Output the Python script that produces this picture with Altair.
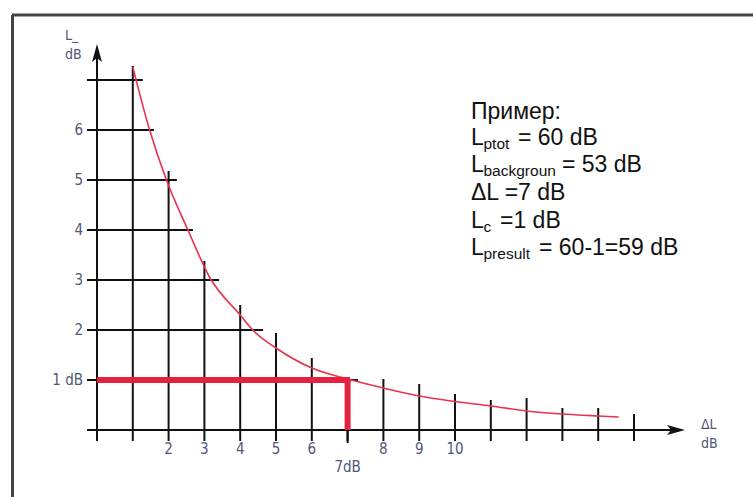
import altair as alt
import pandas as pd

# ---------------- data ----------------
# correction curve  Lc(ΔL)
curve_dl = [1.0, 1.47, 1.94, 2.54, 3.15, 4.0, 4.35, 5.0, 6.0, 7.0, 8.0, 9.0,
            10.0, 11.0, 12.0, 13.0, 14.0, 14.57]
curve_lc = [7.26, 6.0, 5.0, 4.0, 3.05, 2.3, 2.0, 1.64, 1.24, 1.02, 0.84, 0.68,
            0.57, 0.48, 0.38, 0.32, 0.28, 0.26]

# horizontal grid lines (level, right end in ΔL units)
h_level = [1, 2, 3, 4, 5, 6, 7]
h_end = [7.29, 4.64, 3.41, 2.68, 2.23, 1.59, 1.28]

# vertical grid lines (ΔL, top in Lc units)
v_pos = [1, 2, 3, 4, 5, 6, 7, 8, 9, 10, 11, 12, 13, 14, 15]
v_top = [7.28, 5.18, 3.38, 2.5, 1.94, 1.44, 0.0, 1.02, 0.92, 0.72, 0.6, 0.64,
         0.44, 0.44, 0.32]

# example reading
ex_dl = 7
ex_lc = 1

# tick labels
y_tick_vals = [1, 2, 3, 4, 5, 6]
y_tick_text = ["1 dB", "2", "3", "4", "5", "6"]
x_tick_vals = [2, 3, 4, 5, 6, 8, 9, 10]
x_tick_text = ["2", "3", "4", "5", "6", "8", "9", "10"]

# example text block: list of (text, is_subscript)
text_lines = [
    [("Пример:", False)],
    [("L", False), ("ptot", True), ("= 60 dB", False)],
    [("L", False), ("backgroun", True), ("= 53 dB", False)],
    [("ΔL =7 dB", False)],
    [("L", False), ("c", True), ("=1 dB", False)],
    [("L", False), ("presult", True), ("= 60-1=59 dB", False)],
]

# ---------------- layout (pixel mapping) ----------------
W, H = 753, 497
X0PX, XU = 97.0, 35.8     # pixel of ΔL=0, pixels per dB
Y0PX, YU = 430.0, 50.0    # pixel of Lc=0, pixels per dB


def dx_(px):
    return (px - X0PX) / XU


def dy_(py):
    return (Y0PX - py) / YU


xs = alt.Scale(domain=[dx_(0), dx_(W)], nice=False, zero=False)
ys = alt.Scale(domain=[dy_(H), dy_(0)], nice=False, zero=False)


def X(f="x"):
    return alt.X(f"{f}:Q", scale=xs, axis=None)


def Y(f="y"):
    return alt.Y(f"{f}:Q", scale=ys, axis=None)


layers = []
BLACK = "#111111"
RED = "#e4223f"
LABEL = "#4f5878"
FONT_AX = "Liberation Sans Narrow, DejaVu Sans Condensed, Liberation Sans"
FONT_TX = "Liberation Sans"

# frame (top and left border)
frame_top = pd.DataFrame({"x": [dx_(12)], "x2": [dx_(W + 5)], "y": [dy_(15)]})
frame_left = pd.DataFrame({"x": [dx_(12.5)], "y": [dy_(15)], "y2": [dy_(H + 5)]})
layers.append(alt.Chart(frame_top).mark_rule(color="#444444", strokeWidth=3)
              .encode(x=X(), x2="x2:Q", y=Y()))
layers.append(alt.Chart(frame_left).mark_rule(color="#444444", strokeWidth=3)
              .encode(x=X(), y=Y(), y2="y2:Q"))

# horizontal grid lines
hdf = pd.DataFrame({"y": h_level, "x": [-0.28] * len(h_level), "x2": h_end})
layers.append(alt.Chart(hdf).mark_rule(color=BLACK, strokeWidth=2)
              .encode(x=X(), x2="x2:Q", y=Y()))

# vertical grid lines
vdf = pd.DataFrame({"x": v_pos, "y": [-0.22] * len(v_pos), "y2": v_top})
layers.append(alt.Chart(vdf).mark_rule(color=BLACK, strokeWidth=2)
              .encode(x=X(), y=Y(), y2="y2:Q"))

# axes lines
xaxis = pd.DataFrame({"x": [-0.28], "x2": [dx_(676)], "y": [0]})
yaxis = pd.DataFrame({"x": [0], "y": [-0.22], "y2": [dy_(53)]})
layers.append(alt.Chart(xaxis).mark_rule(color=BLACK, strokeWidth=2)
              .encode(x=X(), x2="x2:Q", y=Y()))
layers.append(alt.Chart(yaxis).mark_rule(color=BLACK, strokeWidth=2)
              .encode(x=X(), y=Y(), y2="y2:Q"))

# arrow heads
arr_up = pd.DataFrame({"x": [0], "y": [dy_(53)]})
arr_right = pd.DataFrame({"x": [dx_(676)], "y": [0]})
layers.append(alt.Chart(arr_up).mark_point(
    shape="M0,-1L0.55,1L0,0.55L-0.55,1Z", size=324, filled=True,
    color=BLACK, opacity=1).encode(x=X(), y=Y()))
layers.append(alt.Chart(arr_right).mark_point(
    shape="M1,0L-1,-0.55L-0.55,0L-1,0.55Z", size=324, filled=True,
    color=BLACK, opacity=1).encode(x=X(), y=Y()))

# curve
cdf = pd.DataFrame({"x": curve_dl, "y": curve_lc})
layers.append(alt.Chart(cdf).mark_line(color="#e8334f", strokeWidth=1.6,
                                       interpolate="monotone")
              .encode(x=X(), y=Y()))

# example reading (thick red)
ex_h = pd.DataFrame({"x": [0], "x2": [ex_dl + 0.07], "y": [ex_lc]})
ex_v = pd.DataFrame({"x": [ex_dl], "y": [0], "y2": [ex_lc]})
layers.append(alt.Chart(ex_h).mark_rule(color=RED, strokeWidth=6)
              .encode(x=X(), x2="x2:Q", y=Y()))
layers.append(alt.Chart(ex_v).mark_rule(color=RED, strokeWidth=6)
              .encode(x=X(), y=Y(), y2="y2:Q"))

# tick below x axis at 7
t7 = pd.DataFrame({"x": [ex_dl], "y": [-0.26], "y2": [0]})
layers.append(alt.Chart(t7).mark_rule(color=BLACK, strokeWidth=2)
              .encode(x=X(), y=Y(), y2="y2:Q"))

# y tick labels
ydf = pd.DataFrame({"x": [dx_(83)] * len(y_tick_vals), "y": y_tick_vals, "t": y_tick_text})
layers.append(alt.Chart(ydf).mark_text(align="right", baseline="middle", fontSize=15,
                                       font=FONT_AX, color=LABEL)
              .encode(x=X(), y=Y(), text="t:N"))

# x tick labels
xdf = pd.DataFrame({"x": x_tick_vals, "y": [dy_(449)] * len(x_tick_vals), "t": x_tick_text})
layers.append(alt.Chart(xdf).mark_text(align="center", baseline="middle", fontSize=15,
                                       font=FONT_AX, color=LABEL)
              .encode(x=X(), y=Y(), text="t:N"))
x7 = pd.DataFrame({"x": [ex_dl], "y": [dy_(467)], "t": [f"{ex_dl}dB"]})
layers.append(alt.Chart(x7).mark_text(align="center", baseline="middle", fontSize=15,
                                      font=FONT_AX, color=LABEL)
              .encode(x=X(), y=Y(), text="t:N"))

# axis titles
ax_t = pd.DataFrame({
    "x": [dx_(65), dx_(65), dx_(701), dx_(701)],
    "y": [dy_(36), dy_(55), dy_(425), dy_(444)],
    "t": ["L_", "dB", "ΔL", "dB"],
})
layers.append(alt.Chart(ax_t).mark_text(align="left", baseline="middle", fontSize=14,
                                        font=FONT_AX, color=LABEL)
              .encode(x=X(), y=Y(), text="t:N"))

# example text block
TX_LEFT = 471
base_px = [119, 145, 172, 200, 228, 255]
sub_dx = 12.5
rest_dx = {1: 47, 2: 91, 4: 29, 5: 68}
for i, segs in enumerate(text_lines):
    for j, (txt, sub) in enumerate(segs):
        if j == 0:
            off = 0
        elif sub:
            off = sub_dx
        else:
            off = rest_dx[i]
        d = pd.DataFrame({"x": [dx_(TX_LEFT)], "y": [dy_(base_px[i])], "t": [txt]})
        layers.append(alt.Chart(d).mark_text(
            align="left", baseline="alphabetic", dx=off, dy=4 if sub else 0,
            fontSize=15.5 if sub else 23, font=FONT_TX, color=BLACK)
            .encode(x=X(), y=Y(), text="t:N"))

chart = alt.layer(*layers).properties(
    width=W, height=H, padding=0, autosize=alt.AutoSizeParams(type="none"),
    background="white",
).configure_view(stroke=None)

chart.save("out.html", embed_options={"renderer": "svg", "actions": False})
